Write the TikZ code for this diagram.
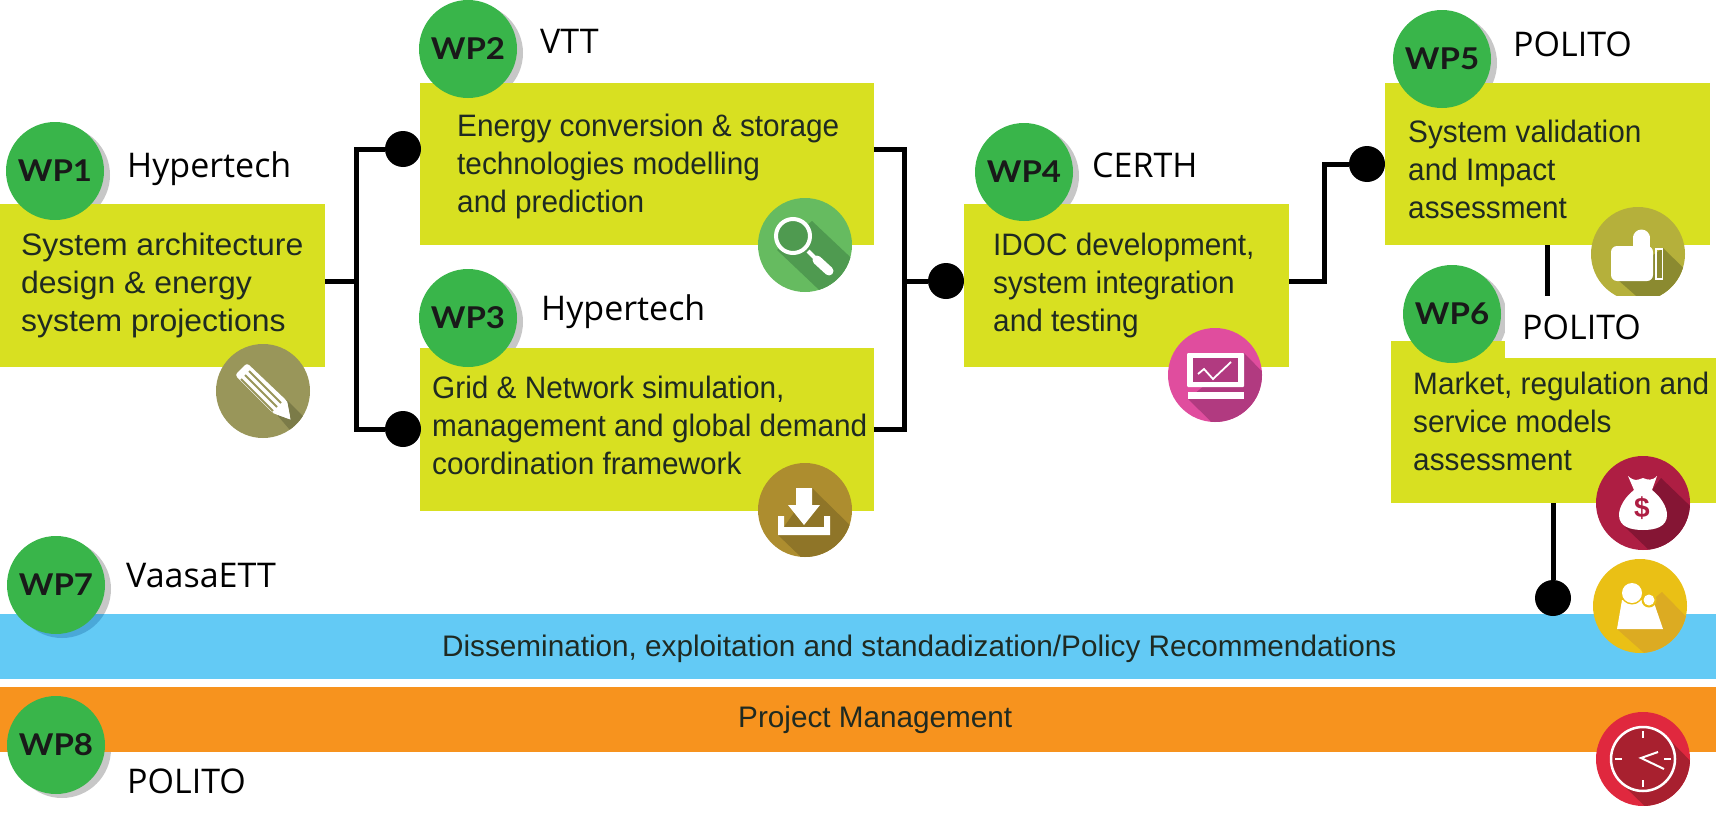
\documentclass[tikz,border=0pt]{standalone}
\usepackage{fontspec}
\setmainfont{Liberation Sans}
\newfontfamily\lblfont{Open Sans}
\newfontfamily\wpfont[FakeStretch=1.1]{Lato Bold}
\newfontfamily\nfont[FakeStretch=0.96]{Liberation Sans}
\newfontfamily\wfont[FakeStretch=1.03]{Liberation Sans}
\definecolor{boxc}{HTML}{D8E021}
\definecolor{wpg}{HTML}{39B54A}
\definecolor{blu}{HTML}{63CAF5}
\definecolor{bludk}{HTML}{4AA8D8}
\definecolor{org}{HTML}{F7931E}
\definecolor{txt}{HTML}{1F2A22}
\definecolor{ola}{HTML}{99965A}\definecolor{olb}{HTML}{7B7B48}
\definecolor{gra}{HTML}{66BB60}\definecolor{grb}{HTML}{4F9A50}
\definecolor{dla}{HTML}{AD8D2F}\definecolor{dlb}{HTML}{8F7528}
\definecolor{pka}{HTML}{E04D9E}\definecolor{pkb}{HTML}{B13A80}
\definecolor{tha}{HTML}{B5B03B}\definecolor{thb}{HTML}{8B8A30}
\definecolor{mna}{HTML}{AE1E43}\definecolor{mnb}{HTML}{851534}
\definecolor{ppa}{HTML}{EAC015}\definecolor{ppb}{HTML}{DCAB22}
\definecolor{cka}{HTML}{E0283E}\definecolor{ckb}{HTML}{A8202F}
\newcommand{\wpt}[1]{\raisebox{-2.5pt}{#1}}
\tikzset{
 x=1pt,y=-1pt,
 wpbox/.style={fill=boxc,draw=none,rectangle,inner sep=0pt,anchor=north west},
 wpc/.style={circle,fill=wpg,minimum size=98pt,inner sep=0pt,text=black!90,font=\wpfont\fontsize{30}{30}\selectfont},
 wpsh/.style={circle,fill=black!22,minimum size=98pt,inner sep=0pt},
 dot/.style={circle,fill=black,minimum size=36pt,inner sep=0pt},
 wire/.style={line width=5pt,black,line join=miter},
 lbl/.style={anchor=base west,inner sep=0pt,font=\lblfont\fontsize{34}{36}\selectfont,text=black},
 btxt/.style={anchor=base west,inner sep=0pt,align=left,text=txt,font=\nfont\fontsize{31}{38}\selectfont},
 btxtw/.style={btxt,font=\wfont\fontsize{31}{38}\selectfont},
 bartxt/.style={anchor=base west,inner sep=0pt,text=txt,font=\fontsize{29.7}{34}\selectfont},
 ico/.style={circle,minimum size=94pt,inner sep=0pt},
}
\newcommand{\iconat}[7]{%
 \node[ico,fill=#4] (#1) at (#2,#3) {};
 \begin{scope}[shift={(#2,#3)}]
  \begin{scope}\clip (0,0) circle (47pt); \fill[#5] #6; \end{scope}
  #7
 \end{scope}}
\begin{document}
\begin{tikzpicture}
\useasboundingbox (0,0) rectangle (1727,827);
% shadows behind boxes
\foreach \xx/\yy in {55/171,468/49,468/318,1024/172,1442/59,1452/314,56/585,56/745}{
 \node[wpsh] at (\xx+6,\yy+4) {};
}
% boxes
\node[wpbox,minimum width=325pt,minimum height=163pt] (b1) at (0,204) {};
\node[wpbox,minimum width=454pt,minimum height=162pt] (b2) at (420,83) {};
\node[wpbox,minimum width=454pt,minimum height=163pt] (b3) at (420,348) {};
\node[wpbox,minimum width=325pt,minimum height=163pt] (b4) at (964,204) {};
\node[wpbox,minimum width=325pt,minimum height=162pt] (b5) at (1385,83) {};
\node[wpbox,minimum width=325pt,minimum height=162pt] (b6) at (1391,341) {};
\node[wpbox,fill=blu,minimum width=1716pt,minimum height=65pt] (bar7) at (0,614) {};
\node[wpbox,fill=org,minimum width=1716pt,minimum height=65pt] (bar8) at (0,687) {};
\begin{scope}
 \clip (bar7.north west) rectangle (bar7.south east);
 \fill[bludk] (62,589) circle (49pt);
\end{scope}
% dots
\node[dot] (d2) at (403,149) {};
\node[dot] (d3) at (403,429) {};
\node[dot] (d4) at (946,281) {};
\node[dot] (d5) at (1367,164) {};
\node[dot] (d7) at (1553,598) {};
% wires
\coordinate (j1) at (356,281);
\coordinate (j2) at (904,281);
\coordinate (j3) at (1324,281);
\coordinate (j5) at (1547,296);
\draw[wire] (b1.east|-j1) -- (j1);
\draw[wire] (d2) -| (j1) |- (d3);
\draw[wire] (b2.east|-d2) -| (j2) |- (b3.east|-d3);
\draw[wire] (j2) -- (d4);
\draw[wire] (b4.east|-j3) -- (j3) |- (d5);
\draw[wire] (b5.south-|j5) -- (j5);
\draw[wire] (b6.south-|d7) -- (d7);
% icons
\iconat{i1}{263}{391}{ola}{olb}{(24,9)--(60,45)--(45,60)--(15,25)--cycle}{
 \fill[white,rounded corners=3pt] (-16,-28)--(24,10)--(27.5,28.5)--(10,22)--(-28,-16)--cycle;
 \draw[ola,line width=1.8pt] (-14,-20)--(18,12) (-18,-16)--(14,16) (-22,-12)--(10,20);
 \fill[white] (24,10)--(27.5,28.5)--(10,22)--cycle;
}
\iconat{i2}{805}{245}{gra}{grb}{(7,-24)--(60,26)--(30,60)--(-28,5)--cycle}{
 \fill[grb] (-12,-9) circle (17pt);
 \draw[white,line width=4pt] (-12,-9) circle (17pt);
 \draw[white,line width=4pt] (3,6)--(10,13);
 \draw[white,line width=9pt,line cap=round] (12,15)--(24,26);
}
\iconat{i3}{805}{510}{dla}{dlb}{(7,-22)--(60,30)--(20,70)--(-27,25)--cycle}{
 \fill[white] (-9,-22)--(7,-22)--(7,-5)--(15,-5)--(-1,15)--(-17,-5)--(-9,-5)--cycle;
 \fill[white] (-27,6)--(-21,6)--(-21,17)--(19,17)--(19,6)--(25,6)--(25,25)--(-27,25)--cycle;
}
\iconat{i4}{1215}{375}{pka}{pkb}{(29,-22)--(70,20)--(20,70)--(-27,24)--cycle}{
 \fill[white,rounded corners=1pt] (-28,-22) rectangle (29,12);
 \fill[pkb] (-22,-17) rectangle (23,7);
 \fill[white] (-27,17) rectangle (29,24);
 \draw[white,line width=1.8pt] (-17,-1)--(-11,-6)--(-2,4)--(16,-13);
}
\iconat{i5}{1638}{254}{tha}{thb}{(25,-6)--(70,38)--(30,70)--(-20,26)--cycle}{
 \fill[white,rounded corners=6pt] (-27,-8) rectangle (15,27);
 \fill[white] (-5,-18) rectangle (12,-4);
 \fill[white] (3.5,-16) circle (8.5pt);
 \fill[white] (17,-6) rectangle (19,26);
 \draw[white,line width=1.6pt] (19,-5.2)--(24.5,-5.2)--(24.5,25.2)--(19,25.2);
}
% white patch in the reference, over WP5's icon and WP6's box corner
\fill[white] (1505,296) rectangle (1727,358);
\iconat{i6}{1643}{503}{mna}{mnb}{(18,-25)--(70,25)--(30,70)--(-18,24)--cycle}{
 \fill[white] (-15,-27) .. controls (-8,-21) and (-6,-23) .. (0,-25) .. controls (5,-23) and (9,-22) .. (14,-27) -- (9,-13) .. controls (18,-6) and (24,4) .. (24,12) .. controls (24,24) and (12,27) .. (0,27) .. controls (-12,27) and (-24,24) .. (-24,12) .. controls (-24,4) and (-18,-6) .. (-9,-13) -- cycle;
 \node[inner sep=0pt,text=mna,font=\bfseries\fontsize{28}{28}\selectfont] (dollar) at (-1,5) {\$};
}
\iconat{i7}{1640}{606}{ppa}{ppb}{(22,-14)--(70,35)--(30,70)--(-23,23)--cycle}{
 \fill[white] (-18,-6)--(13,-6)--(23,23)--(-23,23)--cycle;
 \fill[ppa] (9,-6) circle (7.5pt);
 \fill[white] (9,-6) circle (5.5pt);
 \fill[ppa] (-8,-13) circle (11.5pt);
 \fill[white] (-8,-13) circle (10pt);
}
\iconat{i8}{1643}{759}{cka}{ckb}{(23,-23)--(60,15)--(15,60)--(-23,23)--cycle}{
 \fill[ckb] (0,0) circle (32pt);
 \draw[white,line width=2.5pt] (0,0) circle (32pt);
 \draw[white,line width=2pt] (0,-28)--(0,-21) (0,28)--(0,21) (-28,0)--(-21,0) (28,0)--(21,0);
 \draw[white,line width=2pt] (15,-7)--(-2,-1)--(21,10);
}
% WP circles
\node[wpc] (w1) at (55,171) {\wpt{WP1}};
\node[wpc] (w2) at (468,49) {\wpt{WP2}};
\node[wpc] (w3) at (468,318) {\wpt{WP3}};
\node[wpc] (w4) at (1024,172) {\wpt{WP4}};
\node[wpc] (w5) at (1442,59) {\wpt{WP5}};
\node[wpc] (w6) at (1452,314) {\wpt{WP6}};
\node[wpc] (w7) at (56,585) {\wpt{WP7}};
\node[wpc] (w8) at (56,745) {\wpt{WP8}};
% organisation labels
\node[lbl] (l1) at (127,177) {Hypertech};
\node[lbl] (l2) at (540,53) {VTT};
\node[lbl] (l3) at (541,320) {Hypertech};
\node[lbl] (l4) at (1092,177) {CERTH};
\node[lbl] (l5) at (1513,56) {POLITO};
\node[lbl] (l6) at (1522,339) {POLITO};
\node[lbl] (l7) at (126,587) {VaasaETT};
\node[lbl] (l8) at (127,793) {POLITO};
% box texts
\node[btxtw] (t1) at (21,331) {System architecture\\design \& energy\\system projections};
\node[btxt] (t2) at (457,212) {Energy conversion \& storage\\technologies modelling\\and prediction};
\node[btxt] (t3) at (432,474) {Grid \& Network simulation,\\management and global demand\\coordination framework};
\node[btxt] (t4) at (993,331) {IDOC development,\\system integration\\and testing};
\node[btxt] (t5) at (1408,218) {System validation\\and Impact\\assessment};
\node[btxt] (t6) at (1413,470) {Market, regulation and\\service models\\assessment};
\node[bartxt] (t7) at (442,656) {Dissemination, exploitation and standadization/Policy Recommendations};
\node[bartxt] (t8) at (738,727) {Project Management};
\end{tikzpicture}
\end{document}
